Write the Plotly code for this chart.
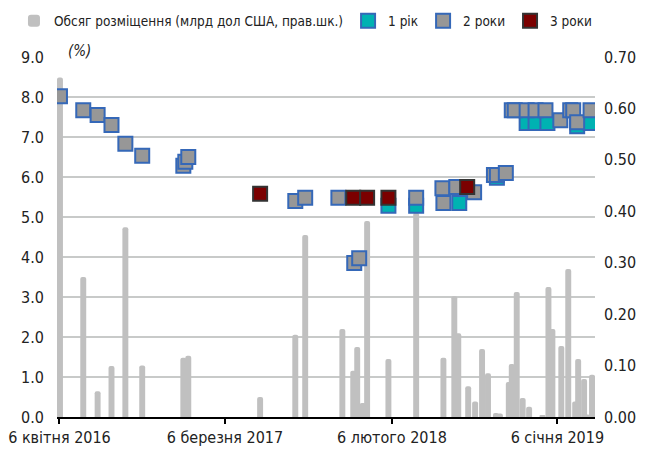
import plotly.graph_objects as go

# ---- data ----
bar_dates = ['2016-04-07','2016-05-24','2016-06-22','2016-07-20','2016-08-17','2016-09-20',
             '2016-12-12','2016-12-22','2017-05-16','2017-07-26','2017-08-15','2017-10-29',
             '2017-11-20','2017-11-28','2017-12-09','2017-12-18','2018-01-30','2018-03-27',
             '2018-05-21','2018-06-12','2018-06-20','2018-07-10','2018-07-24','2018-08-07',
             '2018-08-19','2018-09-04','2018-09-12','2018-09-30','2018-10-06','2018-10-16',
             '2018-10-28','2018-11-10','2018-12-07','2018-12-19','2018-12-27','2019-01-14',
             '2019-01-28','2019-02-11','2019-02-17','2019-03-01','2019-03-07','2019-03-17']
bar_values = [0.66, 0.272, 0.05, 0.099, 0.369, 0.10,
              0.115, 0.119, 0.039, 0.16, 0.354, 0.171,
              0.09, 0.136, 0.027, 0.381, 0.113, 0.397,
              0.115, 0.235, 0.163, 0.06, 0.03, 0.132,
              0.085, 0.008, 0.007, 0.068, 0.103, 0.243,
              0.037, 0.02, 0.003, 0.253, 0.171, 0.138,
              0.288, 0.03, 0.113, 0.074, 0.005, 0.082]

y1_dates = ['2018-01-30','2018-03-27','2018-06-22','2018-09-06','2018-11-05',
            '2018-11-23','2018-12-17','2019-02-15','2019-03-14']
y1_values = [5.28, 5.28, 5.35, 5.98, 7.35, 7.35, 7.35, 7.27, 7.35]

y2_dates = ['2016-04-07','2016-05-24','2016-06-22','2016-07-20','2016-08-17','2016-09-20',
            '2016-12-12','2016-12-16','2016-12-22','2017-07-26','2017-08-15','2017-10-21',
            '2017-11-22','2017-12-02','2018-03-27','2018-05-19','2018-05-21','2018-06-16',
            '2018-07-22','2018-08-31','2018-09-06','2018-09-24','2018-10-06','2018-10-12',
            '2018-11-05','2018-11-23','2018-12-13','2019-01-12','2019-02-01','2019-02-07',
            '2019-02-15','2019-03-14']
y2_values = [8.02, 7.67, 7.55, 7.30, 6.83, 6.53,
             6.28, 6.38, 6.50, 5.40, 5.48, 5.48,
             3.85, 3.97, 5.48, 5.72, 5.35, 5.75,
             5.62, 6.05, 6.05, 6.10, 7.67, 7.67,
             7.67, 7.67, 7.67, 7.42, 7.67, 7.67,
             7.37, 7.67]

y3_dates = ['2017-05-16','2017-11-20','2017-12-18','2018-01-30','2018-07-08']
y3_values = [5.58, 5.48, 5.48, 5.48, 5.75]

x_tick_vals = ['2016-04-06','2017-03-06','2018-02-06','2019-01-06']
x_tick_text = ['6 квітня 2016','6 березня 2017','6 лютого 2018','6 січня 2019']
left_ticks = [0,1,2,3,4,5,6,7,8,9]
right_ticks = [0,0.1,0.2,0.3,0.4,0.5,0.6,0.7]

FONT = "DejaVu Sans Condensed, Liberation Sans Narrow, sans-serif"
DAY_MS = 86400000

fig = go.Figure()
fig.add_trace(go.Bar(
    x=bar_dates, y=bar_values, name='Обсяг розміщення (млрд дол США, прав.шк.)',
    width=[12*DAY_MS]*len(bar_dates),
    marker=dict(color='#c0c0c0', line=dict(width=0), cornerradius='50%'),
    yaxis='y', xaxis='x'))
marker_base = dict(symbol='square', size=14)
fig.add_trace(go.Scatter(x=y1_dates, y=y1_values, name='1 рік', mode='markers', yaxis='y2',
                         marker=dict(**marker_base, color='#00b2b2', line=dict(color='#3568b8', width=2))))
fig.add_trace(go.Scatter(x=y2_dates, y=y2_values, name='2 роки', mode='markers', yaxis='y2',
                         marker=dict(**marker_base, color='#979797', line=dict(color='#3568b8', width=2))))
fig.add_trace(go.Scatter(x=y3_dates, y=y3_values, name='3 роки', mode='markers', yaxis='y2',
                         marker=dict(**marker_base, color='#7b0000', line=dict(color='#333333', width=2))))

# the page body adds an 8px offset; margins compensate for it
fig.update_layout(
    width=654, height=452,
    margin=dict(l=49, r=67, t=49, b=43, autoexpand=False),
    paper_bgcolor='white', plot_bgcolor='white',
    font=dict(family=FONT, size=16, color='#222222'),
    barmode='overlay',
    showlegend=True,
    legend=dict(orientation='h', x=-0.08, xanchor='left', y=1.10, yanchor='middle',
                font=dict(size=13.5, family=FONT), itemwidth=30, tracegroupgap=0,
                bgcolor='rgba(0,0,0,0)'),
    xaxis=dict(type='date', range=['2016-04-01','2019-03-23'],
               tickvals=x_tick_vals, ticktext=x_tick_text,
               showgrid=False, showline=True, linecolor='#000000', linewidth=2,
               ticks='outside', ticklen=5, tickwidth=2, tickcolor='#000000',
               tickfont=dict(size=16)),
    yaxis=dict(side='right', range=[0, 0.7], tickvals=right_ticks, tickformat='.2f',
               showgrid=False, zeroline=False, showline=False, ticks='',
               ticklabelstandoff=8, tickfont=dict(size=16)),
    yaxis2=dict(side='left', overlaying='y', range=[0, 9], tickvals=left_ticks, tickformat='.1f',
                showgrid=True, gridcolor='#c8cac9', gridwidth=2, zeroline=False, showline=False,
                ticks='', ticklabelstandoff=12, tickfont=dict(size=16)),
    annotations=[dict(text='<i>(%)</i>', xref='paper', yref='paper', x=0.042, y=0.985,
                      xanchor='center', yanchor='bottom', showarrow=False,
                      font=dict(size=15, family=FONT))],
)

fig.write_html("out.html")
